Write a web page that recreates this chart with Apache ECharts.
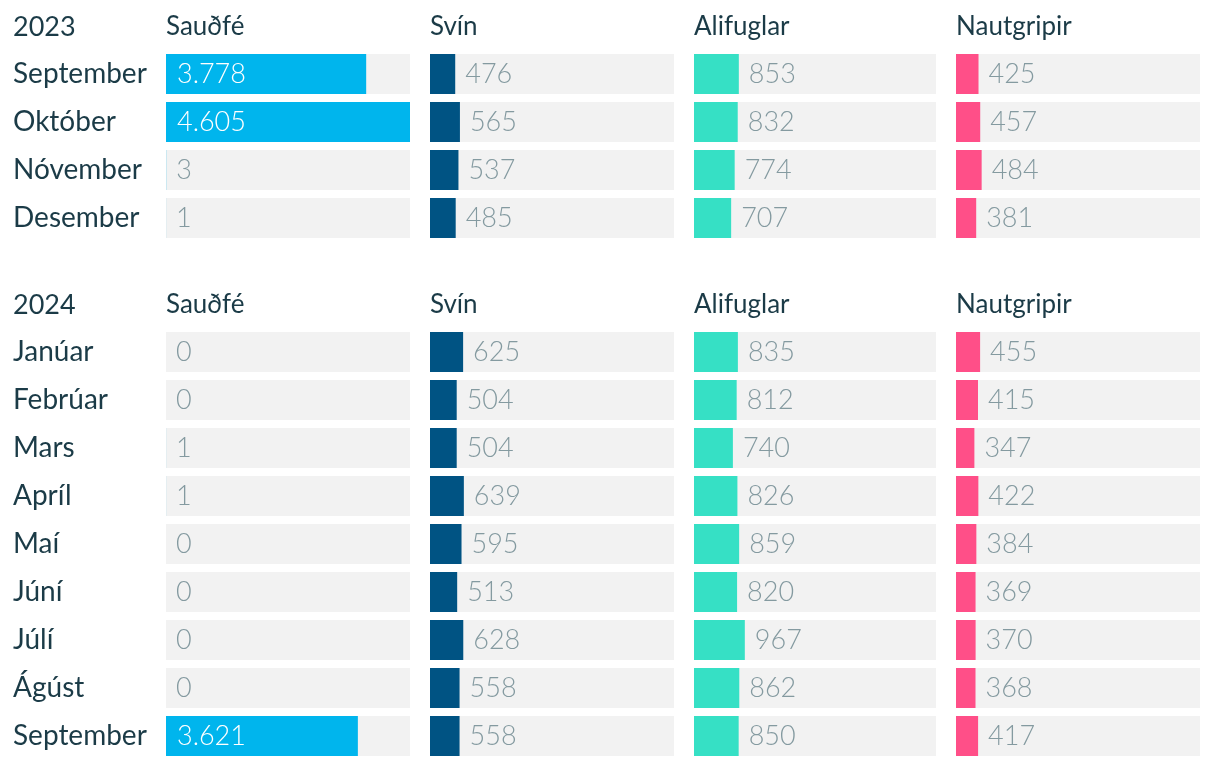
<!DOCTYPE html>
<html>
<head>
<meta charset="utf-8">
<script src="https://cdn.jsdelivr.net/npm/echarts@6/dist/echarts.min.js"></script>
<style>
html,body{margin:0;padding:0;background:#fff;}
#chart{width:1220px;height:766px;}
</style>
</head>
<body>
<div id="chart"></div>
<script>
// ---- data ----
const years = ['2023', '2024'];
const columns = ['Sauðfé', 'Svín', 'Alifuglar', 'Nautgripir'];
const months2023 = ['September', 'Október', 'Nóvember', 'Desember'];
const months2024 = ['Janúar', 'Febrúar', 'Mars', 'Apríl', 'Maí', 'Júní', 'Júlí', 'Ágúst', 'September'];

const saudfe2023 = [3778, 4605, 3, 1];
const svin2023 = [476, 565, 537, 485];
const alifuglar2023 = [853, 832, 774, 707];
const nautgripir2023 = [425, 457, 484, 381];

const saudfe2024 = [0, 0, 1, 1, 0, 0, 0, 0, 3621];
const svin2024 = [625, 504, 504, 639, 595, 513, 628, 558, 558];
const alifuglar2024 = [835, 812, 740, 826, 859, 820, 967, 862, 850];
const nautgripir2024 = [455, 415, 347, 422, 384, 369, 370, 368, 417];

const colors = ['#00b5ed', '#005383', '#36e0c5', '#ff4f88'];

// ---- layout ----
const sections = [
  { year: years[0], months: months2023, values: [saudfe2023, svin2023, alifuglar2023, nautgripir2023], top: 50, headerY: 27 },
  { year: years[1], months: months2024, values: [saudfe2024, svin2024, alifuglar2024, nautgripir2024], top: 328, headerY: 305 }
];
const colLeft = [166, 430, 694, 956];
const colWidth = [244, 244, 242, 244];
const rowH = 48;
const FONT = 'Lato, "Noto Sans", sans-serif';
const DARK = '#1b3b47';
const GRAY = '#849aa0';

const allVals = [].concat(saudfe2023, svin2023, alifuglar2023, nautgripir2023, saudfe2024, svin2024, alifuglar2024, nautgripir2024);
const maxVal = Math.max.apply(null, allVals);

function fmt(v) { return String(v).replace(/\B(?=(\d{3})+(?!\d))/g, '.'); }

const grid = [], xAxis = [], yAxis = [], series = [], graphic = [];
let idx = 0;
sections.forEach(function (sec) {
  graphic.push({ type: 'text', x: 13, y: sec.headerY, style: { text: sec.year, font: '400 27px ' + FONT, fill: DARK, verticalAlign: 'middle' } });
  columns.forEach(function (col, c) {
    graphic.push({ type: 'text', x: colLeft[c], y: sec.headerY, style: { text: col, font: '400 26px ' + FONT, fill: DARK, verticalAlign: 'middle' } });
    grid.push({ left: colLeft[c], top: sec.top, width: colWidth[c], height: sec.months.length * rowH });
    xAxis.push({ type: 'value', gridIndex: idx, min: 0, max: maxVal, show: false });
    yAxis.push({
      type: 'category', gridIndex: idx, data: sec.months, inverse: true,
      axisLine: { show: false }, axisTick: { show: false }, splitLine: { show: false },
      axisLabel: {
        show: c === 0, align: 'left', margin: colLeft[0] - 13,
        fontFamily: FONT, fontSize: 28, color: DARK
      }
    });
    const data = sec.values[c].map(function (v) {
      const inside = v > maxVal * 0.3;
      return {
        value: v,
        label: inside
          ? { position: 'insideLeft', distance: 11, color: '#ffffff' }
          : { position: 'right', distance: 10, color: GRAY }
      };
    });
    series.push({
      type: 'bar', xAxisIndex: idx, yAxisIndex: idx, data: data,
      barWidth: 40, itemStyle: { color: colors[c] },
      showBackground: true, backgroundStyle: { color: '#f2f2f2' },
      label: {
        show: true, fontFamily: FONT, fontWeight: 300, fontSize: 27,
        formatter: function (p) { return fmt(p.value); }
      }
    });
    idx++;
  });
});

const chart = echarts.init(document.getElementById('chart'), null, { renderer: 'canvas' });
chart.setOption({
  animation: false,
  backgroundColor: '#ffffff',
  grid: grid, xAxis: xAxis, yAxis: yAxis, series: series, graphic: graphic
});
</script>
</body>
</html>
